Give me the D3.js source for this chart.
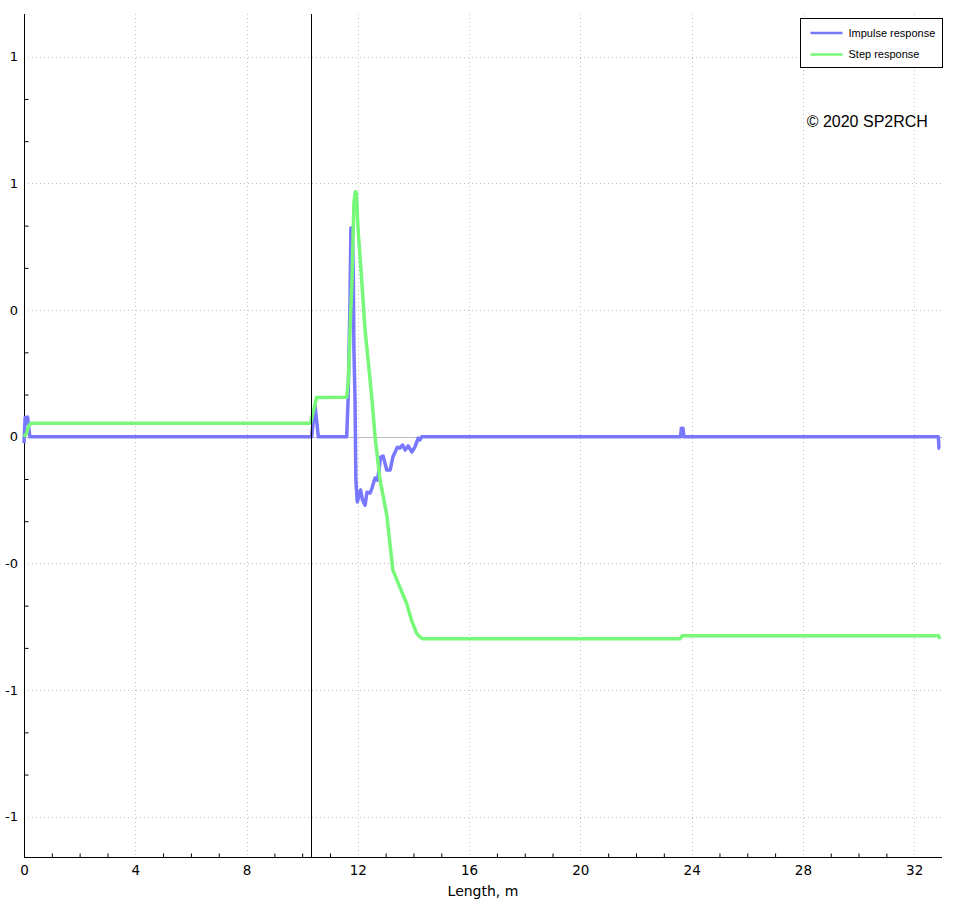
<!DOCTYPE html>
<html>
<head>
<meta charset="utf-8">
<script src="https://cdn.jsdelivr.net/npm/d3@7"></script>
<style>
  body { margin: 0; background: #fff; }
  svg { display: block; }
</style>
</head>
<body>
<div id="chart"></div>
<script>
// values (length in m, response value)
var impulseLen = [0, 0.04, 0.13, 0.21, 10.34, 10.46, 10.58, 11.60, 11.65, 11.72, 11.75, 11.80, 11.84, 11.86, 11.90,
  11.93, 11.98, 12.10, 12.17, 12.26, 12.33, 12.44, 12.51, 12.62, 12.71, 12.82, 12.91, 13.04, 13.16, 13.26,
  13.42, 13.51, 13.61, 13.70, 13.81, 13.94, 14.05, 14.17, 14.23, 14.30, 23.60, 23.63, 23.69, 23.72, 32.87, 32.89, 32.93];
var impulseVal = [-0.02, 0.06, 0.062, 0, 0, 0.10, 0, 0, 0.116, 0.431, 0.659, 0.659, 0.507, 0.274, 0.116,
  -0.137, -0.206, -0.168, -0.20, -0.216, -0.175, -0.178, -0.162, -0.130, -0.137, -0.064, -0.061, -0.105, -0.105, -0.064,
  -0.033, -0.036, -0.026, -0.042, -0.029, -0.048, -0.033, -0.004, -0.010, 0, 0, 0.027, 0.027, 0, 0, -0.036, -0.036];

var stepLen = [0, 0.10, 0.155, 0.25, 10.30, 10.52, 11.60, 11.66, 11.72, 11.79, 11.86, 11.91, 11.95, 12.01, 12.14,
  12.26, 12.38, 12.50, 12.62, 12.80, 13.04, 13.26, 13.51, 13.75, 13.93, 14.11, 14.23, 14.34, 23.58, 23.67, 32.87, 32.93];
var stepVal = [0, 0.012, 0.032, 0.043, 0.043, 0.124, 0.125, 0.179, 0.337, 0.495, 0.738, 0.774, 0.770, 0.653, 0.495,
  0.337, 0.233, 0.126, 0, -0.137, -0.247, -0.421, -0.475, -0.525, -0.579, -0.620, -0.632, -0.638, -0.638, -0.628, -0.628, -0.638];

var xTicks = [0, 4, 8, 12, 16, 20, 24, 28, 32];
var yTicks = [1.2, 0.8, 0.4, 0, -0.4, -0.8, -1.2];
var yTickLabels = ["1", "1", "0", "0", "-0", "-1", "-1"];
var markerLen = 10.33;
var seriesNames = ["Impulse response", "Step response"];

var width = 956, height = 907;
var plotL = 24, plotR = 942, plotT = 14, plotB = 857;
var blue = "#7878ff", green = "#78f878";

var svg = d3.select("#chart").append("svg")
    .attr("width", width)
    .attr("height", height);

var x = d3.scaleLinear().domain([0, 33]).range([plotL, plotR]);
var y = d3.scaleLinear().domain([-1.327, 1.335]).range([plotB, plotT]);

// grid
svg.append("g").selectAll("line")
    .data(xTicks.filter(function (d) { return d != 0; }))
    .enter().append("line")
    .attr("x1", function (d) { return Math.round(x(d)) + 0.5; })
    .attr("x2", function (d) { return Math.round(x(d)) + 0.5; })
    .attr("y1", plotT).attr("y2", plotB)
    .attr("stroke", "#c0c0c0").attr("stroke-dasharray", "1,3");

svg.append("g").selectAll("line")
    .data(yTicks.filter(function (d) { return d != 0; }))
    .enter().append("line")
    .attr("y1", function (d) { return Math.round(y(d)) + 0.5; })
    .attr("y2", function (d) { return Math.round(y(d)) + 0.5; })
    .attr("x1", plotL).attr("x2", plotR)
    .attr("stroke", "#c0c0c0").attr("stroke-dasharray", "1,3");

// zero line
svg.append("line")
    .attr("x1", plotL).attr("x2", plotR)
    .attr("y1", Math.round(y(0)) + 0.5).attr("y2", Math.round(y(0)) + 0.5)
    .attr("stroke", "#bdbdbd");

// axes
var xMinor = d3.range(1, 33).filter(function (d) { return d % 4 != 0; });
svg.append("g")
    .attr("transform", "translate(0," + (plotB + 0.5) + ")")
    .call(d3.axisBottom(x).tickValues(xMinor).tickSizeInner(-4).tickSizeOuter(0).tickFormat(""))
    .call(function (g) { g.select(".domain").remove(); });

var xAxis = svg.append("g")
    .attr("transform", "translate(0," + plotB + ")")
    .call(d3.axisBottom(x).tickValues(xTicks).tickSize(0).tickPadding(8).tickFormat(d3.format("d")));
xAxis.select(".domain").remove();
xAxis.selectAll("text").attr("font-family", "DejaVu Sans").attr("font-size", "13.5px").attr("fill", "#000");

var yMinor = d3.range(-9, 10).filter(function (k) { return k % 3 != 0; }).map(function (k) { return k * 0.4 / 3; });
svg.append("g")
    .attr("transform", "translate(" + (plotL + 0.5) + ",0)")
    .call(d3.axisLeft(y).tickValues(yMinor).tickSizeInner(-4).tickSizeOuter(0).tickFormat(""))
    .call(function (g) { g.select(".domain").remove(); });

var yAxis = svg.append("g")
    .attr("transform", "translate(" + plotL + ",0)")
    .call(d3.axisLeft(y).tickValues(yTicks).tickSize(0).tickPadding(6)
        .tickFormat(function (d, i) { return yTickLabels[i]; }));
yAxis.select(".domain").remove();
yAxis.selectAll("text").attr("font-family", "DejaVu Sans").attr("font-size", "13px").attr("fill", "#000");

svg.append("line")
    .attr("x1", plotL + 0.5).attr("x2", plotL + 0.5).attr("y1", plotT).attr("y2", plotB + 1)
    .attr("stroke", "#000");
svg.append("line")
    .attr("x1", plotL).attr("x2", plotR).attr("y1", plotB + 0.5).attr("y2", plotB + 0.5)
    .attr("stroke", "#000");

svg.append("text")
    .attr("x", (plotL + plotR) / 2).attr("y", 896)
    .attr("text-anchor", "middle")
    .attr("font-family", "DejaVu Sans").attr("font-size", "14px")
    .text("Length, m");

// series
var line = d3.line()
    .x(function (d) { return x(d[0]); })
    .y(function (d) { return y(d[1]); });

var impulse = impulseLen.map(function (d, i) { return [d, impulseVal[i]]; });
var step = stepLen.map(function (d, i) { return [d, stepVal[i]]; });

svg.append("path").datum(impulse)
    .attr("d", line).attr("fill", "none")
    .attr("stroke", blue).attr("stroke-width", 3.5).attr("stroke-linejoin", "round");
svg.append("path").datum(step)
    .attr("d", line).attr("fill", "none")
    .attr("stroke", green).attr("stroke-width", 3.5).attr("stroke-linejoin", "round");

// marker
svg.append("line")
    .attr("x1", Math.round(x(markerLen)) + 0.5).attr("x2", Math.round(x(markerLen)) + 0.5)
    .attr("y1", plotT).attr("y2", plotB)
    .attr("stroke", "#000");

// legend
var legend = svg.append("g").attr("transform", "translate(800.5,18.5)");
legend.append("rect")
    .attr("width", 142).attr("height", 49)
    .attr("fill", "#fff").attr("stroke", "#000");
[blue, green].forEach(function (c, i) {
    var ly = 14.5 + i * 21.5;
    legend.append("line")
        .attr("x1", 10).attr("x2", 42).attr("y1", ly).attr("y2", ly)
        .attr("stroke", c).attr("stroke-width", 2.5);
    legend.append("text")
        .attr("x", 48).attr("y", ly + 3.8)
        .attr("font-family", "Liberation Sans").attr("font-size", "11px")
        .text(seriesNames[i]);
});

svg.append("text")
    .attr("x", 806.7).attr("y", 127.3)
    .attr("font-family", "Liberation Sans").attr("font-size", "16px")
    .text("\u00a9 2020 SP2RCH");
</script>
</body>
</html>
